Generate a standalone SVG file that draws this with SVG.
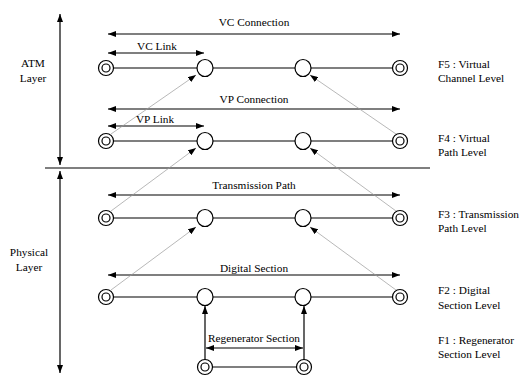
<svg xmlns="http://www.w3.org/2000/svg" width="521" height="379" viewBox="0 0 521 379">
<defs>
<marker id="ah" viewBox="0 0 8 6" refX="8" refY="3" markerWidth="8" markerHeight="6" markerUnits="userSpaceOnUse" orient="auto-start-reverse">
<path d="M0,0 L8,3 L0,6 z" fill="#000"/>
</marker>
<marker id="ahg" viewBox="0 0 8 6" refX="8" refY="3" markerWidth="8" markerHeight="6" markerUnits="userSpaceOnUse" orient="auto">
<path d="M0,0 L8,3 L0,6 z" fill="#000"/>
</marker>
</defs>
<style>
.t{font-family:'Liberation Serif','DejaVu Serif',serif;font-size:11.3px;fill:#000}
.m{text-anchor:middle}
.ln{stroke:#000;stroke-width:1.2;fill:none}
.ar{stroke:#000;stroke-width:1.2;fill:none;marker-start:url(#ah);marker-end:url(#ah)}
.ar1{stroke:#000;stroke-width:1.2;fill:none;marker-end:url(#ah)}
.dt{stroke:#999;stroke-width:0.7;fill:none;marker-end:url(#ahg)}
.c{stroke:#000;stroke-width:1.2;fill:#fff}
</style>
<g id="connectors">
<line class="ln" x1="45" y1="168" x2="430" y2="168"/>
<line class="ar" x1="60" y1="14" x2="60" y2="165"/>
<line class="ar" x1="60" y1="171" x2="60" y2="373"/>
<line class="ln" x1="107" y1="68" x2="400" y2="68"/>
<line class="ln" x1="107" y1="141" x2="400" y2="141"/>
<line class="ln" x1="107" y1="218" x2="400" y2="218"/>
<line class="ln" x1="107" y1="297" x2="400" y2="297"/>
<line class="ln" x1="205" y1="367" x2="304" y2="367"/>
<line class="ar" x1="108" y1="34" x2="400" y2="34"/>
<line class="ar" x1="108" y1="53" x2="204" y2="53"/>
<line class="ar" x1="108" y1="109" x2="400" y2="109"/>
<line class="ar" x1="108" y1="126" x2="204" y2="126"/>
<line class="ar" x1="108" y1="195" x2="400" y2="195"/>
<line class="ar" x1="108" y1="275" x2="400" y2="275"/>
<line class="ar" x1="206" y1="348" x2="303" y2="348"/>
<line class="ar1" x1="205" y1="360" x2="205" y2="306"/>
<line class="ar1" x1="304" y1="360" x2="304" y2="306"/>
<line class="dt" x1="111" y1="134" x2="196" y2="75"/>
<line class="dt" x1="396" y1="134" x2="310" y2="75"/>
<line class="dt" x1="111" y1="211" x2="196" y2="148"/>
<line class="dt" x1="396" y1="211" x2="310" y2="148"/>
<line class="dt" x1="111" y1="290" x2="196" y2="227"/>
<line class="dt" x1="396" y1="290" x2="310" y2="227"/>
</g>
<g id="labels" class="t" font-family="'Liberation Serif', 'DejaVu Serif', serif" font-size="11.3">
<text class="m" x="254" y="26">VC Connection</text>
<text class="m" x="157" y="50">VC Link</text>
<text class="m" x="254" y="103">VP Connection</text>
<text class="m" x="155" y="123">VP Link</text>
<text class="m" x="254" y="189">Transmission Path</text>
<text class="m" x="254" y="272">Digital Section</text>
<text class="m" x="254" y="342">Regenerator Section</text>
<text class="m" x="33" y="67">ATM</text>
<text class="m" x="33" y="82">Layer</text>
<text class="m" x="29" y="256">Physical</text>
<text class="m" x="29" y="271">Layer</text>
</g>
<g id="level-labels" class="t" font-family="'Liberation Serif', 'DejaVu Serif', serif" font-size="11.3">
<text x="438" y="68">F5 : Virtual</text>
<text x="438" y="82">Channel Level</text>
<text x="438" y="142">F4 : Virtual</text>
<text x="438" y="156">Path Level</text>
<text x="438" y="218">F3 : Transmission</text>
<text x="438" y="232">Path Level</text>
<text x="438" y="294">F2 : Digital</text>
<text x="438" y="309">Section Level</text>
<text x="438" y="344">F1 : Regenerator</text>
<text x="438" y="358">Section Level</text>
</g>
<g id="f5-left"><circle class="c" cx="106" cy="68" r="7.5"/><circle class="c" cx="106" cy="68" r="4"/></g>
<g id="f5-mid1"><ellipse class="c" cx="205" cy="68" rx="8" ry="8.5"/></g>
<g id="f5-mid2"><ellipse class="c" cx="303" cy="68" rx="8" ry="8.5"/></g>
<g id="f5-right"><circle class="c" cx="400" cy="68" r="7.5"/><circle class="c" cx="400" cy="68" r="4"/></g>
<g id="f4-left"><circle class="c" cx="106" cy="141" r="7.5"/><circle class="c" cx="106" cy="141" r="4"/></g>
<g id="f4-mid1"><ellipse class="c" cx="205" cy="141" rx="8" ry="8.5"/></g>
<g id="f4-mid2"><ellipse class="c" cx="303" cy="141" rx="8" ry="8.5"/></g>
<g id="f4-right"><circle class="c" cx="400" cy="141" r="7.5"/><circle class="c" cx="400" cy="141" r="4"/></g>
<g id="f3-left"><circle class="c" cx="106" cy="218" r="7.5"/><circle class="c" cx="106" cy="218" r="4"/></g>
<g id="f3-mid1"><ellipse class="c" cx="205" cy="218" rx="8" ry="8.5"/></g>
<g id="f3-mid2"><ellipse class="c" cx="303" cy="218" rx="8" ry="8.5"/></g>
<g id="f3-right"><circle class="c" cx="400" cy="218" r="7.5"/><circle class="c" cx="400" cy="218" r="4"/></g>
<g id="f2-left"><circle class="c" cx="106" cy="297" r="7.5"/><circle class="c" cx="106" cy="297" r="4"/></g>
<g id="f2-mid1"><ellipse class="c" cx="205" cy="297" rx="8" ry="8.5"/></g>
<g id="f2-mid2"><ellipse class="c" cx="303" cy="297" rx="8" ry="8.5"/></g>
<g id="f2-right"><circle class="c" cx="400" cy="297" r="7.5"/><circle class="c" cx="400" cy="297" r="4"/></g>
<g id="f1-left"><circle class="c" cx="205" cy="367" r="7.5"/><circle class="c" cx="205" cy="367" r="4"/></g>
<g id="f1-right"><circle class="c" cx="304" cy="367" r="7.5"/><circle class="c" cx="304" cy="367" r="4"/></g>
</svg>
